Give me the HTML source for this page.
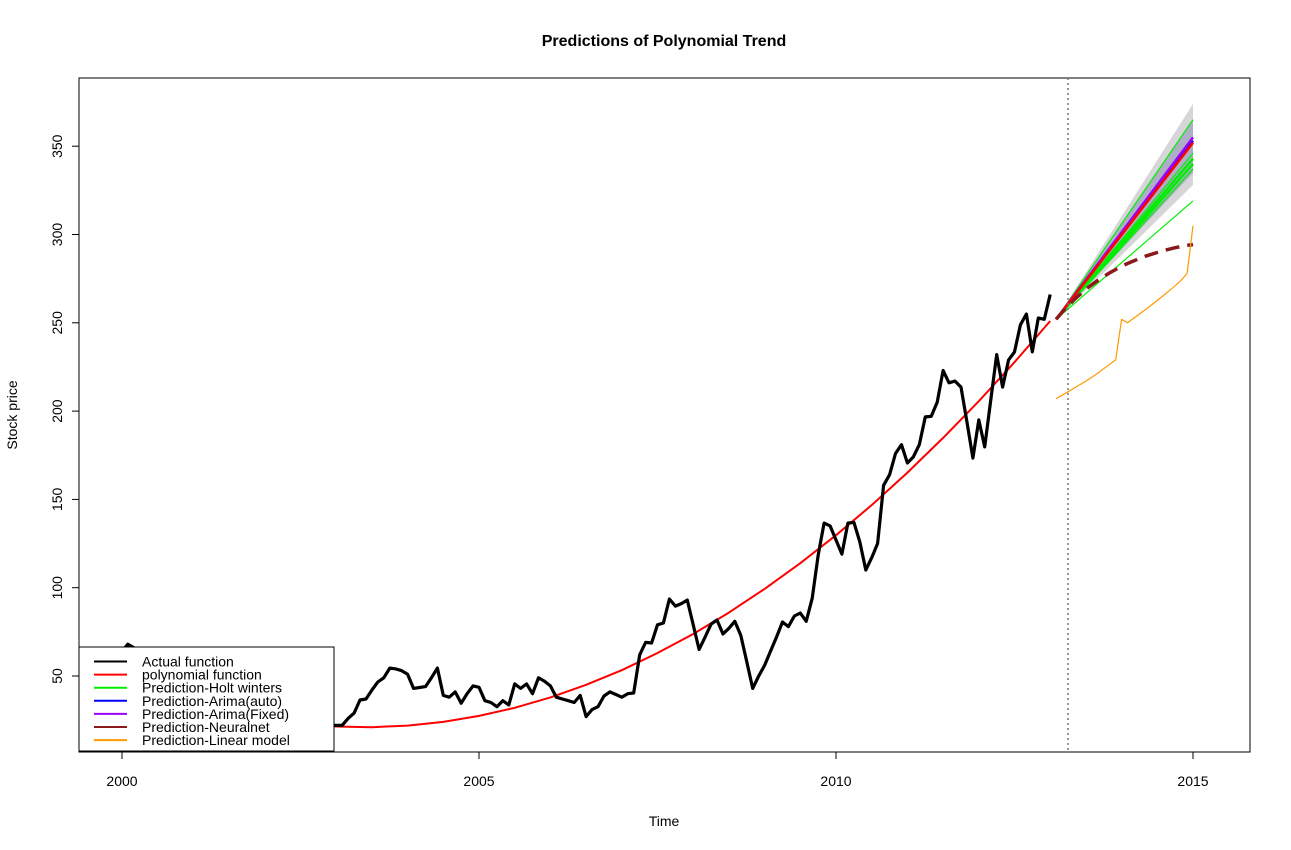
<!DOCTYPE html>
<html><head><meta charset="utf-8"><style>
body{margin:0;background:#fff;}
svg{display:block;font-family:"Liberation Sans",Arial,sans-serif;}
</style></head><body>
<svg id="chart" width="1291" height="850" viewBox="0 0 1291 850">
<rect width="1291" height="850" fill="#fff"/>
<text x="664" y="46" text-anchor="middle" font-size="16" font-weight="bold">Predictions of Polynomial Trend</text>
<text x="664" y="826" text-anchor="middle" font-size="14">Time</text>
<text x="17" y="415" text-anchor="middle" font-size="14" transform="rotate(-90 17 415)">Stock price</text>
<g id="bands"></g>
<g id="series"></g>
<g id="axes"></g>
<rect x="79" y="78" width="1171" height="674" fill="none" stroke="#000" stroke-width="1"/>
<line x1="1068" y1="78" x2="1068" y2="752" stroke="#777" stroke-width="1.5" stroke-dasharray="2,3"/>
<g>
<rect x="79" y="647" width="255" height="104" fill="#fff" stroke="#000"/>
<g id="legend-items"></g>
</g>
</svg>
<script>
// ---- data ----
const actualStart = 2000; // monthly
const actualValues = [64,68,66,61,57,59,52,47,49,42,39,36,41,37,34,31,29,32,27,28,25,24,22,23,25,22,21,22,24,22,21,23,21,22,23,22,
22,22,26,29,36.4,37,42,46.6,49,54.5,54,53,51,43,43.5,44,49,54.5,39,38,41,34.6,40,44.4,43.6,36,35,32.6,36,33.6,45.5,43,45.5,40,49,47,44.4,38,37,36,35,39,27,31,32.6,38.7,41,39.5,38,40,40.4,62,69,68.7,79,80,93.6,89.6,91,93,79,65,72,79.4,81.7,73.8,77,81,73,58,43,50,56,64,72,80.6,78,84,85.7,81,94,118.5,136.6,135,127,119,136.6,137,126,110,117,125,158,164,176,181,170.6,174,181,196.7,197,205,223,216,217,213.6,194,173.4,195,179.7,206,232,213.6,229,233.5,248.8,255,233.5,252.7,252,266];
const polyTimes = [2000,2000.5,2001,2001.5,2002,2002.5,2003,2003.5,2004,2004.5,2005,2005.5,2006,2006.5,2007,2007.5,2008,2008.5,2009,2009.5,2010,2010.5,2011,2011.5,2012,2012.5,2013];
const polyValues = [49.9,42.0,35.4,30.0,25.9,23.0,21.4,21.0,21.9,24.0,27.4,32.0,37.9,45.0,53.3,63.0,73.8,85.9,99.3,113.9,129.7,146.8,165.2,184.8,205.6,227.7,251.0];
const fcStartTime = 2013.083, fcEndTime = 2015.0, fcStartValue = 252;
const holtEnds = [365,346,343,340,337,319];
const arimaAutoEnd = [353];
const arimaFixedEnd = [355];
const polyFcEnd = [352];
const band95 = [374,328];
const band80 = [365,335];
const nnValues = [252,256,259.5,263,266,269,271.5,274,276.2,278.3,280.2,282,283.6,285,286.4,287.7,288.8,289.8,290.8,291.7,292.5,293.2,293.8,294.3];
const lmValues = [207,209,211,213,215,217,219.2,221.5,224,226.5,229,252,250,252.5,255,257.5,260,262.7,265.4,268.2,271,274,278,305];
const xTicks = [2000,2005,2010,2015];
const yTicks = [50,100,150,200,250,300,350];
const legendLabels = ["Actual function","polynomial function","Prediction-Holt winters","Prediction-Arima(auto)","Prediction-Arima(Fixed)","Prediction-Neuralnet","Prediction-Linear model"];
const legendColors = ["#000","#ff0000","#00ee00","#0000ff","#9b00ff","#8b1a1a","#ff9900"];

// ---- scales ----
const X = t => 122 + (t - 2000) * 71.4;
const Y = v => 676 - (v - 50) * 1.766;
const NS = "http://www.w3.org/2000/svg";
function mk(tag, parent, attrs){const e=document.createElementNS(NS,tag);for(const k in attrs)e.setAttribute(k,attrs[k]);parent.appendChild(e);return e;}
const series = document.getElementById('series'), bands = document.getElementById('bands'), axes = document.getElementById('axes');

// bands
[[band95,'#d6d6d9','band-95'],[band80,'#aeaec6','band-80']].forEach(([b,c,n])=>{
  const p = mk('polygon', bands, {points:`${X(fcStartTime)},${Y(fcStartValue)} ${X(fcEndTime)},${Y(b[0])} ${X(fcEndTime)},${Y(b[1])}`, fill:c});
  
  
});

function polyline(pts, color, w, name, dash){
  const el = mk('polyline', series, {points: pts.map(p=>p[0].toFixed(1)+','+p[1].toFixed(1)).join(' '), fill:'none', stroke:color, 'stroke-width':w, 'stroke-linejoin':'round'});
  if (dash) el.setAttribute('stroke-dasharray', dash);
  
  
}
// polynomial
polyline(polyTimes.map((t,i)=>[X(t),Y(polyValues[i])]), '#ff0000', 2, 'polynomial-line');
// actual
polyline(actualValues.map((v,i)=>[X(actualStart+i/12),Y(v)]), '#000', 3.2, 'actual-line');
// holt winters
holtEnds.forEach((e,i)=>polyline([[X(fcStartTime),Y(fcStartValue)],[X(fcEndTime),Y(e)]], '#00ee00', i===2||i===3?2.5:1.2, 'holt-winters-line-'+i));
polyline([[X(fcStartTime),Y(fcStartValue)],[X(fcEndTime),Y(arimaAutoEnd[0])]], '#0000ff', 2.5, 'arima-auto-line');
polyline([[X(fcStartTime),Y(fcStartValue)],[X(fcEndTime),Y(arimaFixedEnd[0])]], '#9b00ff', 2.5, 'arima-fixed-line');
polyline([[X(fcStartTime),Y(fcStartValue)],[X(fcEndTime),Y(polyFcEnd[0])]], '#ff0000', 2.5, 'polynomial-forecast-line');
polyline(nnValues.map((v,i)=>[X(2013+(i+1)/12),Y(v)]), '#8b1a1a', 3.5, 'neuralnet-line', '14,8');
polyline(lmValues.map((v,i)=>[X(2013+(i+1)/12),Y(v)]), '#ff9900', 1.2, 'linear-model-line');

// axes
mk('line', axes, {x1:X(xTicks[0]), y1:752, x2:X(xTicks[xTicks.length-1]), y2:752, stroke:'#000'});
xTicks.forEach(t=>{
  const l = mk('line', axes, {x1:X(t), y1:752, x2:X(t), y2:759, stroke:'#000'});
  
  
  const tx = mk('text', axes, {x:X(t), y:786, 'text-anchor':'middle', 'font-size':14});
  tx.textContent = t;
  
  
});
mk('line', axes, {x1:79, y1:Y(yTicks[0]), x2:79, y2:Y(yTicks[yTicks.length-1]), stroke:'#000'});
yTicks.forEach(v=>{
  const l = mk('line', axes, {x1:72, y1:Y(v), x2:79, y2:Y(v), stroke:'#000'});
  
  
  const tx = mk('text', axes, {x:62, y:Y(v), 'text-anchor':'middle', 'font-size':14, transform:`rotate(-90 62 ${Y(v)})`});
  tx.textContent = v;
  
  
});

// legend
const li = document.getElementById('legend-items');
legendLabels.forEach((lab,i)=>{
  const y = 661.5 + i*13.1;
  const g = mk('g', li, {});
  
  
  mk('line', g, {x1:94, y1:y, x2:127, y2:y, stroke:legendColors[i], 'stroke-width':2});
  const tx = mk('text', g, {x:142, y:y+5, 'font-size':14});
  tx.textContent = lab;
});
</script>
</body></html>
